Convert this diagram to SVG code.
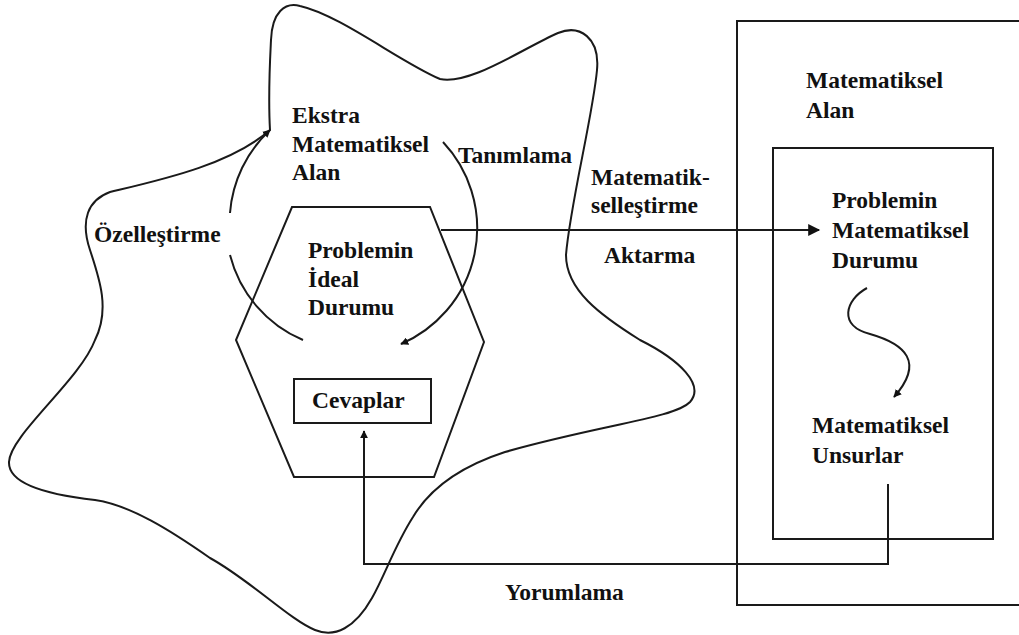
<svg xmlns="http://www.w3.org/2000/svg" width="1019" height="635" viewBox="0 0 1019 635">
  <style>
    .ln { fill: none; stroke: #1a1a1a; stroke-width: 2; }
    .tx { font-family: "Liberation Serif", "Times New Roman", serif; font-weight: bold; font-size: 23.5px; fill: #111; }
  </style>
  <defs>
    <marker id="head" viewBox="0 0 10 10" refX="9" refY="5" markerWidth="8" markerHeight="8" markerUnits="userSpaceOnUse" orient="auto">
      <path d="M0,0 L10,5 L0,10 Z" fill="#111"/>
    </marker>
    <marker id="headL" viewBox="0 0 10 10" refX="9" refY="5" markerWidth="18" markerHeight="12" markerUnits="userSpaceOnUse" orient="auto">
      <path d="M0,0 L10,5 L0,10 Z" fill="#111"/>
    </marker>
  </defs>
  <rect width="1019" height="635" fill="#fff"/>

  <!-- extra-mathematical domain outline -->
  <g id="extra-domain">
    <path class="ln" d="M 270,130 C 268,95 270,60 271,40 C 272,12 285,2 300,6 C 340,15 400,62 440,79 C 470,85 520,50 558,33 C 580,24 600,38 597,70 C 593,115 570,205 566,255 C 566,290 600,315 640,340 C 680,360 705,385 690,402 C 675,418 600,425 505,452 C 465,465 432,485 413,517 C 395,545 385,575 372,598 C 355,628 335,638 315,630 C 290,620 250,580 210,558 C 170,530 130,505 95,500 C 50,495 8,485 9,462 C 10,435 80,380 95,340 C 110,310 100,280 90,250 C 80,220 88,200 110,192 C 160,180 230,165 270,130 Z"/>
    <text class="tx" x="292" y="123">Ekstra</text>
    <text class="tx" x="292" y="152">Matematiksel</text>
    <text class="tx" x="292" y="180">Alan</text>
  </g>

  <!-- ideal situation hexagon -->
  <g id="ideal">
    <polygon class="ln" points="292,207 430,207 484,342 434,477 294,477 236,340"/>
    <text class="tx" x="308" y="258">Problemin</text>
    <text class="tx" x="308" y="287">İdeal</text>
    <text class="tx" x="308" y="315">Durumu</text>
  </g>

  <g id="answers">
    <rect class="ln" x="294" y="379" width="137" height="44"/>
    <text class="tx" x="312" y="408">Cevaplar</text>
  </g>

  <!-- mathematical domain -->
  <g id="math-domain">
    <rect class="ln" x="737" y="21" width="300" height="584"/>
    <text class="tx" x="806" y="88">Matematiksel</text>
    <text class="tx" x="806" y="118">Alan</text>
  </g>

  <g id="math-situation">
    <rect class="ln" x="773" y="148" width="220" height="391"/>
    <text class="tx" x="832" y="208">Problemin</text>
    <text class="tx" x="832" y="238">Matematiksel</text>
    <text class="tx" x="832" y="268">Durumu</text>
  </g>

  <g id="math-elements">
    <text class="tx" x="812" y="433">Matematiksel</text>
    <text class="tx" x="812" y="463">Unsurlar</text>
  </g>

  <!-- connectors -->
  <g id="connectors">
    <path class="ln" d="M 303,340 A 126,126 0 0 1 230,255"/>
    <path class="ln" d="M 230,213 A 126,126 0 0 1 270,130" marker-end="url(#head)"/>
    <path class="ln" d="M 443,142 A 126,126 0 0 1 401,344" marker-end="url(#head)"/>
    <path class="ln" d="M 441,230 L 819,230" marker-end="url(#headL)"/>
    <path class="ln" d="M 867,288 C 845,300 838,326 870,334 C 905,344 925,362 894,397" marker-end="url(#head)"/>
    <path class="ln" d="M 888,484 L 888,564 L 364,564 L 364,431" marker-end="url(#head)"/>
    <text class="tx" x="94" y="242">Özelleştirme</text>
    <text class="tx" x="458" y="163">Tanımlama</text>
    <text class="tx" x="591" y="185">Matematik-</text>
    <text class="tx" x="591" y="213">selleştirme</text>
    <text class="tx" x="604" y="263">Aktarma</text>
    <text class="tx" x="505" y="600">Yorumlama</text>
  </g>
</svg>
